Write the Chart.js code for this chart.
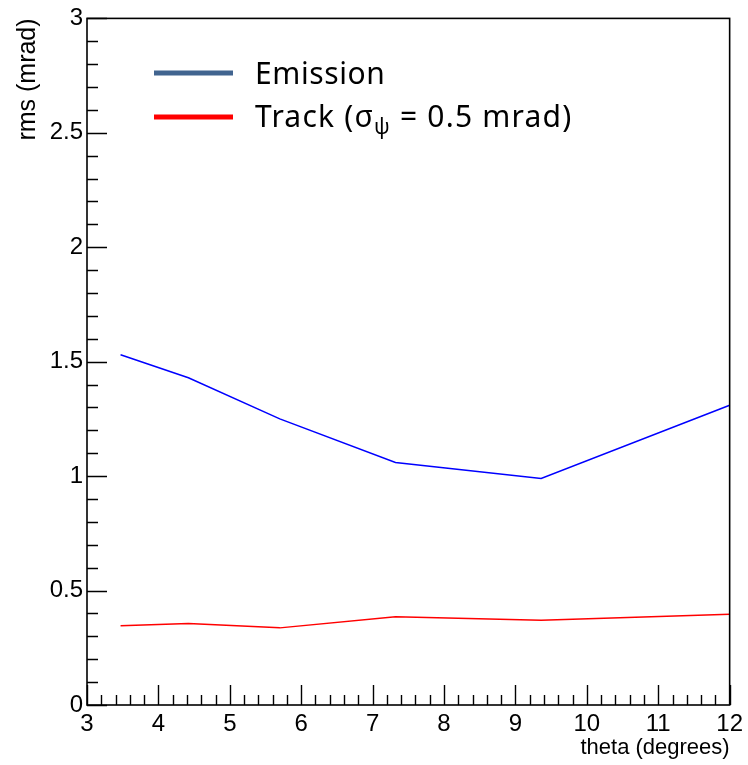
<!DOCTYPE html>
<html>
<head>
<meta charset="utf-8">
<script src="https://cdn.jsdelivr.net/npm/chart.js@4"></script>
<style>
  html, body { margin: 0; padding: 0; background: #fff; }
  #wrap { width: 748px; height: 765px; }
</style>
</head>
<body>
<div id="wrap"><canvas id="myChart" width="748" height="765"></canvas></div>
<script>
// values
const thetaValues = [3.47, 4.42, 5.7, 7.32, 9.36, 12.0];
const emissionRms = [1.53, 1.43, 1.25, 1.06, 0.99, 1.31];
const trackRms = [0.346, 0.356, 0.337, 0.386, 0.370, 0.396];

const xTickValues = [3, 4, 5, 6, 7, 8, 9, 10, 11, 12];
const yTickValues = [0, 0.5, 1, 1.5, 2, 2.5, 3];
const legendLabels = ['Emission', 'Track (', 'σ', 'ψ', ' = 0.5 mrad)'];

const AXIS_FONT = '"Liberation Sans", Arial, sans-serif';
const LEGEND_FONT = '"Noto Sans", "Open Sans", sans-serif';

function toPoints(xs, ys) {
    return xs.map((x, i) => ({ x: x, y: ys[i] }));
}

// ROOT style frame with inward ticks
const frameTicks = {
    id: 'frameTicks',
    afterDraw(chart) {
        const { ctx, chartArea, scales } = chart;
        const { left, right, top, bottom } = chartArea;
        const xs = scales.x, ys = scales.y;
        ctx.save();
        ctx.strokeStyle = '#000';
        ctx.lineWidth = 1.6;
        ctx.strokeRect(left, top, right - left, bottom - top);

        ctx.lineWidth = 1.4;
        ctx.beginPath();
        for (let v = xs.min; v <= xs.max + 1e-6; v += 0.2) {
            const px = Math.round(xs.getPixelForValue(v)) + 0.5;
            const major = Math.abs(v - Math.round(v)) < 1e-6;
            ctx.moveTo(px, bottom);
            ctx.lineTo(px, bottom - (major ? 20 : 10));
        }
        for (let v = ys.min; v <= ys.max + 1e-6; v += 0.1) {
            const py = Math.round(ys.getPixelForValue(v)) + 0.5;
            const major = Math.abs(v * 2 - Math.round(v * 2)) < 1e-6;
            ctx.moveTo(left, py);
            ctx.lineTo(left + (major ? 20 : 11), py);
        }
        ctx.stroke();
        ctx.restore();
    }
};

// legend drawn inside the frame
const boxLegend = {
    id: 'boxLegend',
    afterDraw(chart) {
        const ctx = chart.ctx;
        ctx.save();
        ctx.lineWidth = 5;
        ctx.strokeStyle = '#41648f';
        ctx.beginPath();
        ctx.moveTo(154, 73);
        ctx.lineTo(233, 73);
        ctx.stroke();
        ctx.strokeStyle = '#ff0000';
        ctx.beginPath();
        ctx.moveTo(154, 117);
        ctx.lineTo(233, 117);
        ctx.stroke();

        ctx.fillStyle = '#000';
        ctx.textBaseline = 'alphabetic';
        ctx.textAlign = 'left';
        ctx.letterSpacing = '0.6px';
        ctx.font = '30px ' + LEGEND_FONT;
        ctx.fillText(legendLabels[0], 255, 84);

        ctx.letterSpacing = '1.2px';
        let x = 255;
        ctx.fillText(legendLabels[1], x, 127);
        x += ctx.measureText(legendLabels[1]).width;
        ctx.fillText(legendLabels[2], x, 127);
        x += ctx.measureText(legendLabels[2]).width;
        ctx.font = '21px ' + LEGEND_FONT;
        ctx.fillText(legendLabels[3], x, 134);
        x += ctx.measureText(legendLabels[3]).width;
        ctx.font = '30px ' + LEGEND_FONT;
        ctx.fillText(legendLabels[4], x, 127);
        ctx.restore();
    }
};

function makeChart() {
    const ctx = document.getElementById('myChart');

    new Chart(ctx, {
        type: 'line',
        data: {
            datasets: [{
                label: 'Emission',
                data: toPoints(thetaValues, emissionRms),
                borderColor: '#0000ff',
                borderWidth: 1.5,
                pointRadius: 0,
                tension: 0
            }, {
                label: 'Track',
                data: toPoints(thetaValues, trackRms),
                borderColor: '#ff0000',
                borderWidth: 1.5,
                pointRadius: 0,
                tension: 0
            }]
        },
        options: {
            responsive: false,
            animation: false,
            layout: { padding: { top: 18, right: 18, left: 0, bottom: 0 } },
            plugins: {
                legend: { display: false },
                tooltip: { enabled: false }
            },
            scales: {
                x: {
                    type: 'linear',
                    min: 3,
                    max: 12,
                    afterFit: (s) => { s.height = 60; },
                    afterBuildTicks: (s) => { s.ticks = xTickValues.map(v => ({ value: v })); },
                    grid: { display: false, drawTicks: false },
                    border: { display: false },
                    ticks: {
                        color: '#000',
                        padding: 5,
                        maxRotation: 0,
                        autoSkip: false,
                        font: { family: AXIS_FONT, size: 24 },
                        callback: (v) => String(v)
                    },
                    title: {
                        display: true,
                        text: 'theta (degrees)',
                        align: 'end',
                        color: '#000',
                        padding: { top: 0, bottom: 4 },
                        font: { family: AXIS_FONT, size: 22 }
                    }
                },
                y: {
                    min: 0,
                    max: 3,
                    afterFit: (s) => { s.width = 87; },
                    afterBuildTicks: (s) => { s.ticks = yTickValues.map(v => ({ value: v })); },
                    grid: { display: false, drawTicks: false },
                    border: { display: false },
                    ticks: {
                        color: '#000',
                        padding: 4,
                        autoSkip: false,
                        font: { family: AXIS_FONT, size: 24 },
                        callback: (v) => String(v)
                    },
                    title: {
                        display: true,
                        text: 'rms (mrad)',
                        align: 'end',
                        color: '#000',
                        padding: { top: 13, bottom: 0 },
                        font: { family: AXIS_FONT, size: 25 }
                    }
                }
            }
        },
        plugins: [frameTicks, boxLegend]
    });
}

makeChart();
</script>
</body>
</html>
